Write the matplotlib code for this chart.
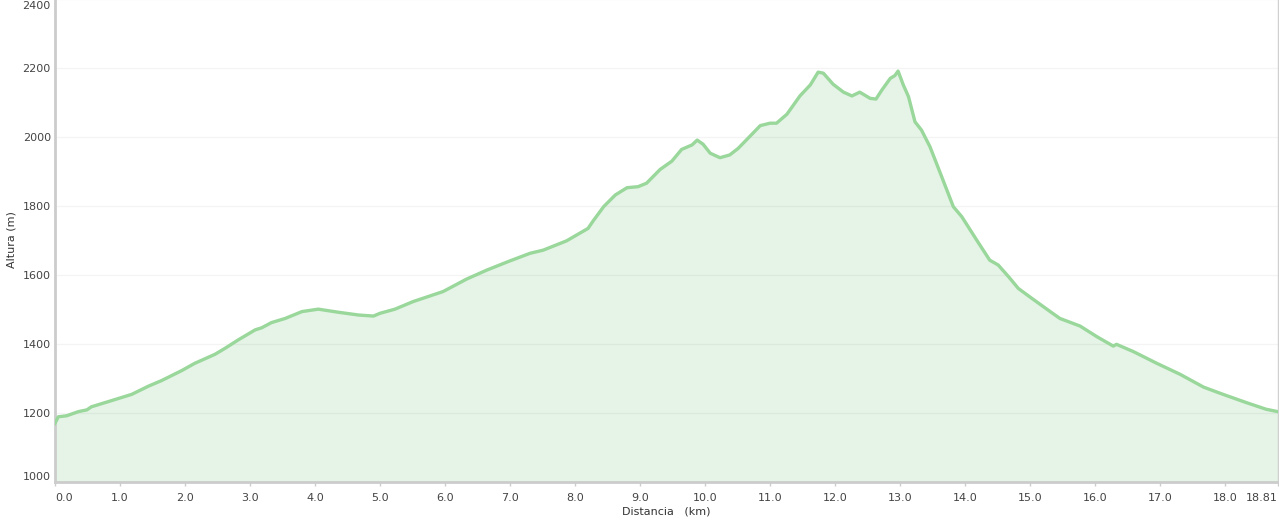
import numpy as np
import matplotlib
matplotlib.use("Agg")
import matplotlib.pyplot as plt
from matplotlib.transforms import ScaledTranslation

# elevation profile
dist_km = [0.00, 0.05, 0.18, 0.36, 0.49, 0.56, 0.82, 1.18, 1.44, 1.64, 1.95, 2.15,
           2.46, 2.62, 2.82, 3.08, 3.18, 3.33, 3.54, 3.80, 4.05, 4.36, 4.67, 4.90,
           5.00, 5.23, 5.51, 5.97, 6.33, 6.64, 7.00, 7.31, 7.51, 7.87, 8.20, 8.28,
           8.44, 8.62, 8.80, 8.97, 9.10, 9.31, 9.49, 9.64, 9.80, 9.88, 9.97, 10.08,
           10.23, 10.38, 10.51, 10.67, 10.85, 11.00, 11.10, 11.26, 11.46, 11.62, 11.74,
           11.82, 11.97, 12.13, 12.26, 12.38, 12.54, 12.63, 12.72, 12.85, 12.92, 12.97,
           13.05, 13.13, 13.23, 13.33, 13.46, 13.62, 13.82, 13.95, 14.18, 14.38, 14.51,
           14.67, 14.82, 15.03, 15.31, 15.46, 15.77, 16.03, 16.28, 16.33, 16.59, 16.95,
           17.31, 17.67, 17.97, 18.33, 18.63, 18.81]
alt_m = [1170, 1189, 1192, 1204, 1209, 1218, 1233, 1254, 1278, 1294, 1323, 1344,
         1370, 1388, 1412, 1441, 1447, 1462, 1474, 1494, 1501, 1492, 1484, 1481,
         1489, 1501, 1523, 1552, 1588, 1614, 1641, 1663, 1672, 1699, 1735, 1757,
         1798, 1832, 1853, 1856, 1866, 1906, 1930, 1964, 1977, 1991, 1979, 1953,
         1940, 1948, 1967, 1998, 2033, 2040, 2040, 2066, 2119, 2151, 2188,
         2185, 2153, 2130, 2119, 2130, 2112, 2110, 2136, 2170, 2178, 2191,
         2151, 2117, 2044, 2020, 1972, 1895, 1798, 1769, 1701, 1643, 1629,
         1595, 1561, 1532, 1494, 1474, 1452, 1421, 1394, 1399, 1378, 1344,
         1312, 1275, 1254, 1230, 1211, 1204]

x_ticks = [0, 1, 2, 3, 4, 5, 6, 7, 8, 9, 10, 11, 12, 13, 14, 15, 16, 17, 18, 18.81]
x_labels = ["0.0", "1.0", "2.0", "3.0", "4.0", "5.0", "6.0", "7.0", "8.0", "9.0",
            "10.0", "11.0", "12.0", "13.0", "14.0", "15.0", "16.0", "17.0", "18.0", "18.81"]
y_ticks = [1000, 1200, 1400, 1600, 1800, 2000, 2200, 2400]

plt.rcParams["font.family"] = "DejaVu Sans"

fig = plt.figure(figsize=(12.79, 5.24), dpi=100)
ax = fig.add_axes([55/1279, 42/524, 1222.7/1279, 483/524])

ax.fill_between(dist_km, alt_m, 1000, color="#e5f4e7", lw=0, zorder=1)
ax.plot(dist_km, alt_m, color="#99d79b", lw=2.4, solid_joinstyle="round", zorder=3)

ax.set_xlim(0, 18.81)
ax.set_ylim(1000, 2400)

for y in y_ticks[1:]:
    ax.axhline(y, color="black", alpha=0.045, lw=1, zorder=2)

ax.set_xticks(x_ticks)
ax.set_xticklabels(x_labels)
ax.set_yticks(y_ticks)
ax.set_yticklabels([str(v) for v in y_ticks])

ax.tick_params(axis="x", length=3, width=1, color="#cccccc", labelsize=8,
               labelcolor="#444444", pad=5)
ax.tick_params(axis="y", length=0, labelsize=8, labelcolor="#444444", pad=3)

xl = ax.get_xticklabels()
xl[0].set_horizontalalignment("left")
xl[-1].set_horizontalalignment("right")
yl = ax.get_yticklabels()
yl[0].set_verticalalignment("bottom")
yl[-1].set_verticalalignment("top")
yl[-1].set_transform(yl[-1].get_transform() + ScaledTranslation(0, -2/100, fig.dpi_scale_trans))

for side in ["left", "bottom"]:
    ax.spines[side].set_color("#cccccc")
    ax.spines[side].set_linewidth(2)
ax.spines["right"].set_color("#d0d0d0")
ax.spines["right"].set_linewidth(1)
ax.spines["top"].set_visible(False)

fig.text(12/1279, 1 - 240/524, "Altura (m)", rotation=90, ha="center", va="center",
         fontsize=8, color="#333333")
fig.text(666/1279, 1 - 512/524, "Distancia   (km)", ha="center", va="center",
         fontsize=8, color="#333333")

fig.savefig("out.png", dpi=100)
